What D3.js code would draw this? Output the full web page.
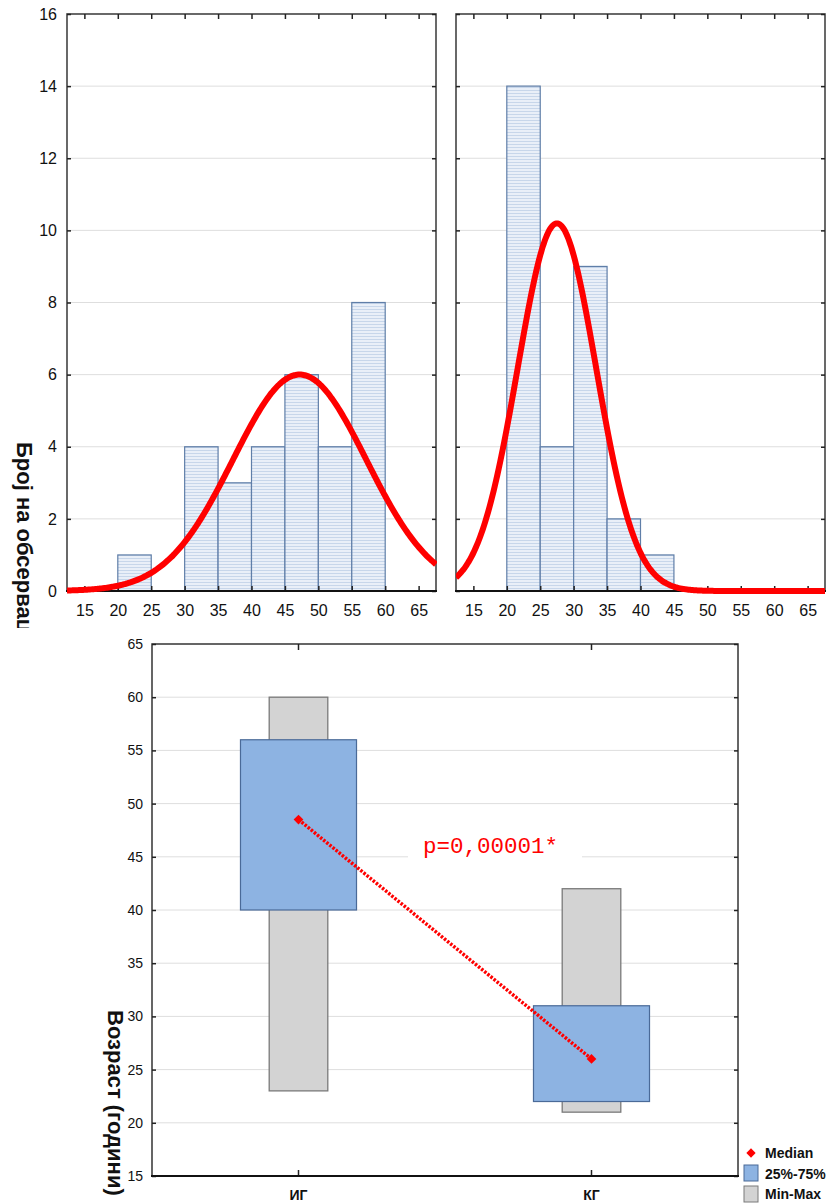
<!DOCTYPE html>
<html>
<head>
<meta charset="utf-8">
<script src="https://cdn.jsdelivr.net/npm/d3@7"></script>
<style>
  body { margin: 0; background: #fff; }
  svg { display: block; font-family: Arial, "Liberation Sans", sans-serif; }
</style>
</head>
<body>
<script>
// histogram data (bin start, width 5)
const binStarts = [15, 20, 25, 30, 35, 40, 45, 50, 55, 60, 65];
const countsIG = [0, 1, 0, 4, 3, 4, 6, 4, 8, 0, 0];
const countsKG = [0, 14, 4, 9, 2, 1, 0, 0, 0, 0, 0];
const binWidth = 5;
const histYTicks = [0, 2, 4, 6, 8, 10, 12, 14, 16];
const histXTicks = [15, 20, 25, 30, 35, 40, 45, 50, 55, 60, 65];
// fitted normal curves
const fitIG = { n: 30, mean: 47.2, sd: 9.97 };
const fitKG = { n: 30, mean: 27.5, sd: 5.87 };

// box chart data
const groups = ["ИГ", "КГ"];
const medians = [48.5, 26];
const q1 = [40, 22];
const q3 = [56, 31];
const mins = [23, 21];
const maxs = [60, 42];
const boxYTicks = [15, 20, 25, 30, 35, 40, 45, 50, 55, 60, 65];
const pText = "p=0,00001*";

const svg = d3.select("body").append("svg")
    .attr("width", 836)
    .attr("height", 1203);

const defs = svg.append("defs");
const pat = defs.append("pattern")
    .attr("id", "stripes")
    .attr("patternUnits", "userSpaceOnUse")
    .attr("width", 6).attr("height", 3);
pat.append("rect").attr("width", 6).attr("height", 3).attr("fill", "#e9eff8");
pat.append("rect").attr("width", 6).attr("height", 1).attr("fill", "#c7d6ea");

const histTop = 14, histBottom = 591;

function histPanel(x0, x1, counts, fit, showLabels, id) {
    const x = d3.scaleLinear().domain([12.4, 67.6]).range([x0, x1]);
    const y = d3.scaleLinear().domain([0, 16]).range([histBottom, histTop]);
    const g = svg.append("g");

    // grid
    g.selectAll(".grid")
        .data(histYTicks.filter(d => d > 0 && d < 16))
        .enter().append("line")
        .attr("x1", x0).attr("x2", x1)
        .attr("y1", d => y(d)).attr("y2", d => y(d))
        .attr("stroke", "#dedede").attr("stroke-width", 1);

    // bars
    const bars = binStarts.map((b, i) => ({ start: b, count: counts[i] })).filter(d => d.count > 0);
    g.selectAll(".bar")
        .data(bars)
        .enter().append("rect")
        .attr("x", d => x(d.start))
        .attr("width", d => x(d.start + binWidth) - x(d.start))
        .attr("y", d => y(d.count))
        .attr("height", d => y(0) - y(d.count))
        .attr("fill", "url(#stripes)")
        .attr("stroke", "#5f7ea8")
        .attr("stroke-width", 1.2);

    // frame
    g.append("rect")
        .attr("x", x0).attr("y", histTop)
        .attr("width", x1 - x0).attr("height", histBottom - histTop)
        .attr("fill", "none").attr("stroke", "#444").attr("stroke-width", 1.6);

    // axes (ticks inward)
    const yAxis = d3.axisLeft(y).tickValues(histYTicks).tickSize(-4).tickPadding(10)
        .tickFormat(showLabels ? d3.format("d") : "");
    const gy = g.append("g").attr("transform", `translate(${x0},0)`).call(yAxis);
    g.append("g").attr("transform", `translate(${x1},0)`)
        .call(d3.axisRight(y).tickValues(histYTicks).tickSize(-4).tickFormat(""));
    const gx = g.append("g").attr("transform", `translate(0,${histBottom})`)
        .call(d3.axisBottom(x).tickValues(histXTicks).tickSize(-5).tickPadding(14));
    g.append("g").attr("transform", `translate(0,${histTop})`)
        .call(d3.axisTop(x).tickValues(histXTicks).tickSize(-5).tickFormat(""));
    g.selectAll(".domain").remove();
    g.selectAll(".tick line").attr("stroke", "#222").attr("stroke-width", 1.5);
    g.selectAll(".tick text").attr("font-size", 16).attr("fill", "#111")
        .attr("font-family", "Arial, 'Liberation Sans', sans-serif");

    g.append("line")
        .attr("x1", x0 - 1).attr("x2", x1 + 1)
        .attr("y1", histBottom).attr("y2", histBottom)
        .attr("stroke", "#111").attr("stroke-width", 2.2);

    // normal curve
    defs.append("clipPath").attr("id", id)
        .append("rect").attr("x", x0).attr("y", histTop)
        .attr("width", x1 - x0 + 1).attr("height", histBottom - histTop + 4);
    const pts = d3.range(12.4, 67.7, 0.2).map(v => {
        const z = (v - fit.mean) / fit.sd;
        return [v, fit.n * binWidth * Math.exp(-0.5 * z * z) / (fit.sd * Math.sqrt(2 * Math.PI))];
    });
    g.append("path")
        .datum(pts)
        .attr("clip-path", `url(#${id})`)
        .attr("d", d3.line().x(d => x(d[0])).y(d => y(d[1])).curve(d3.curveBasis))
        .attr("fill", "none")
        .attr("stroke", "#ff0000")
        .attr("stroke-width", 6);
}

histPanel(67, 436, countsIG, fitIG, true, "clipIG");
histPanel(456, 825, countsKG, fitKG, false, "clipKG");

// rotated y label for histograms, cut off by the box chart below
defs.append("clipPath").attr("id", "clipLabel")
    .append("rect").attr("x", 0).attr("y", 400).attr("width", 60).attr("height", 228);
svg.append("g").attr("clip-path", "url(#clipLabel)")
    .append("text")
    .attr("transform", "translate(17,442) rotate(90)")
    .attr("font-size", 22).attr("font-weight", "bold").attr("fill", "#111")
    .text("Број на обсервации");

// ---- box chart ----
const bx0 = 152, bx1 = 738, by0 = 644, by1 = 1176;
const xb = d3.scaleBand().domain(groups).range([bx0, bx1]);
const yb = d3.scaleLinear().domain([15, 65]).range([by1, by0]);
const bw = xb.bandwidth();
const cx = d => xb(d) + bw / 2;

const gb = svg.append("g");
gb.selectAll(".grid")
    .data(boxYTicks.filter(d => d > 15 && d < 65))
    .enter().append("line")
    .attr("x1", bx0).attr("x2", bx1)
    .attr("y1", d => yb(d)).attr("y2", d => yb(d))
    .attr("stroke", "#dedede");

const boxes = groups.map((gname, i) => ({
    g: gname, med: medians[i], q1: q1[i], q3: q3[i], min: mins[i], max: maxs[i]
}));

// min-max
gb.selectAll(".mm")
    .data(boxes)
    .enter().append("rect")
    .attr("x", d => cx(d.g) - bw * 0.1)
    .attr("width", bw * 0.2)
    .attr("y", d => yb(d.max))
    .attr("height", d => yb(d.min) - yb(d.max))
    .attr("fill", "#d3d3d3").attr("stroke", "#7a7a7a").attr("stroke-width", 1.3);

// quartile box
gb.selectAll(".iq")
    .data(boxes)
    .enter().append("rect")
    .attr("x", d => cx(d.g) - bw * 0.198)
    .attr("width", bw * 0.396)
    .attr("y", d => yb(d.q3))
    .attr("height", d => yb(d.q1) - yb(d.q3))
    .attr("fill", "#8db3e2").attr("stroke", "#4a6a98").attr("stroke-width", 1.2);

// frame & axes
gb.append("rect")
    .attr("x", bx0).attr("y", by0).attr("width", bx1 - bx0).attr("height", by1 - by0)
    .attr("fill", "none").attr("stroke", "#333").attr("stroke-width", 1.5);
gb.append("g").attr("transform", `translate(${bx0},0)`)
    .call(d3.axisLeft(yb).tickValues(boxYTicks).tickSize(-4).tickPadding(9));
gb.append("g").attr("transform", `translate(${bx1},0)`)
    .call(d3.axisRight(yb).tickValues(boxYTicks).tickSize(-4).tickFormat(""));
gb.append("g").attr("transform", `translate(0,${by1})`)
    .call(d3.axisBottom(xb).tickSize(-6).tickPadding(14));
gb.append("g").attr("transform", `translate(0,${by0})`)
    .call(d3.axisTop(xb).tickSize(-6).tickFormat(""));
gb.selectAll(".domain").remove();
gb.selectAll(".tick line").attr("stroke", "#222").attr("stroke-width", 1.5);
gb.selectAll(".tick text").attr("font-size", 14).attr("fill", "#111")
    .attr("font-family", "Arial, 'Liberation Sans', sans-serif");
gb.selectAll("g:nth-of-type(3) .tick text").attr("font-weight", "bold");
gb.append("line")
    .attr("x1", bx0 - 1).attr("x2", bx1 + 1).attr("y1", by1).attr("y2", by1)
    .attr("stroke", "#111").attr("stroke-width", 2);

// p value label with white backing
gb.append("rect")
    .attr("x", 408).attr("y", 836).attr("width", 174).attr("height", 30)
    .attr("fill", "#fff");
gb.append("text")
    .attr("x", 423).attr("y", 853)
    .attr("font-family", "'Liberation Mono', 'Courier New', monospace")
    .attr("font-size", 22.5).attr("fill", "#ff0000")
    .text(pText);

// median line and markers
gb.append("path")
    .datum(boxes)
    .attr("d", d3.line().x(d => cx(d.g)).y(d => yb(d.med)))
    .attr("fill", "none").attr("stroke", "#ff0000")
    .attr("stroke-width", 3.5).attr("stroke-dasharray", "2.5,1.5");
gb.selectAll(".med")
    .data(boxes)
    .enter().append("path")
    .attr("transform", d => `translate(${cx(d.g)},${yb(d.med)})`)
    .attr("d", d3.symbol(d3.symbolDiamond2, 60))
    .attr("fill", "#ff0000");

// y label
svg.append("text")
    .attr("transform", "translate(108,1010) rotate(90)")
    .attr("font-size", 22).attr("font-weight", "bold").attr("fill", "#111")
    .text("Возраст (години)");

// legend
const legend = svg.append("g");
legend.append("path")
    .attr("transform", "translate(751,1153)")
    .attr("d", d3.symbol(d3.symbolDiamond2, 55))
    .attr("fill", "#ff0000");
legend.append("rect").attr("x", 744).attr("y", 1165).attr("width", 14).attr("height", 16)
    .attr("fill", "#8db3e2").attr("stroke", "#4a6a98");
legend.append("rect").attr("x", 744).attr("y", 1186).attr("width", 14).attr("height", 16)
    .attr("fill", "#d3d3d3").attr("stroke", "#7a7a7a");
const legText = ["Median", "25%-75%", "Min-Max"];
legend.selectAll(".lt")
    .data(legText)
    .enter().append("text")
    .attr("x", 765)
    .attr("y", (d, i) => 1158 + i * 20.5)
    .attr("font-size", 14).attr("font-weight", "bold").attr("fill", "#111")
    .text(d => d);
</script>
</body>
</html>
